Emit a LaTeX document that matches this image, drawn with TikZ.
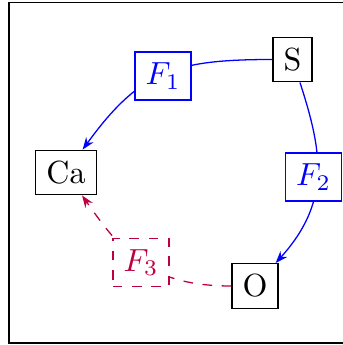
\documentclass[tikz,border=0pt]{standalone}
\usepackage{xcolor}
\usepackage{tikz}
\usetikzlibrary{arrows.meta}
\definecolor{fblue}{HTML}{0000FF}
\definecolor{fpurple}{HTML}{BF0040}

\begin{document}
\begin{tikzpicture}[x=0.3125pt,y=0.3125pt,
  species/.style={draw=black,fill=white},
  flux/.style={draw=#1,text=#1,fill=white},
  path/.style={draw=#1,-{Stealth[length=3.8pt,width=2.8pt]}}]
  \useasboundingbox (0,0) rectangle (342,345);
  \draw (9,2) rectangle (346,342.5);
  \node[species] (S) at (292.5,285.5) {S};
  \node[species] (Ca) at (66,172.5) {Ca};
  \node[species] (O) at (255,59) {O};
  \draw[path=fblue] (S.west) .. controls +(-98,0) and +(54:97) .. (Ca.54);
  \draw[path=fblue] (S.-72) .. controls +(-72:75) and +(48:82) .. (O.48);
  \draw[path=fpurple,dashed] (O.west) .. controls +(-80,0) and +(-55:72) .. (Ca.-55);
  \node[flux=fblue] (F1) at (163,269) {$F_1$};
  \node[flux=fblue] (F2) at (313.5,168) {$F_2$};
  \node[flux=fpurple,dashed] (F3) at (141,82.5) {$F_3$};
\end{tikzpicture}
\end{document}
